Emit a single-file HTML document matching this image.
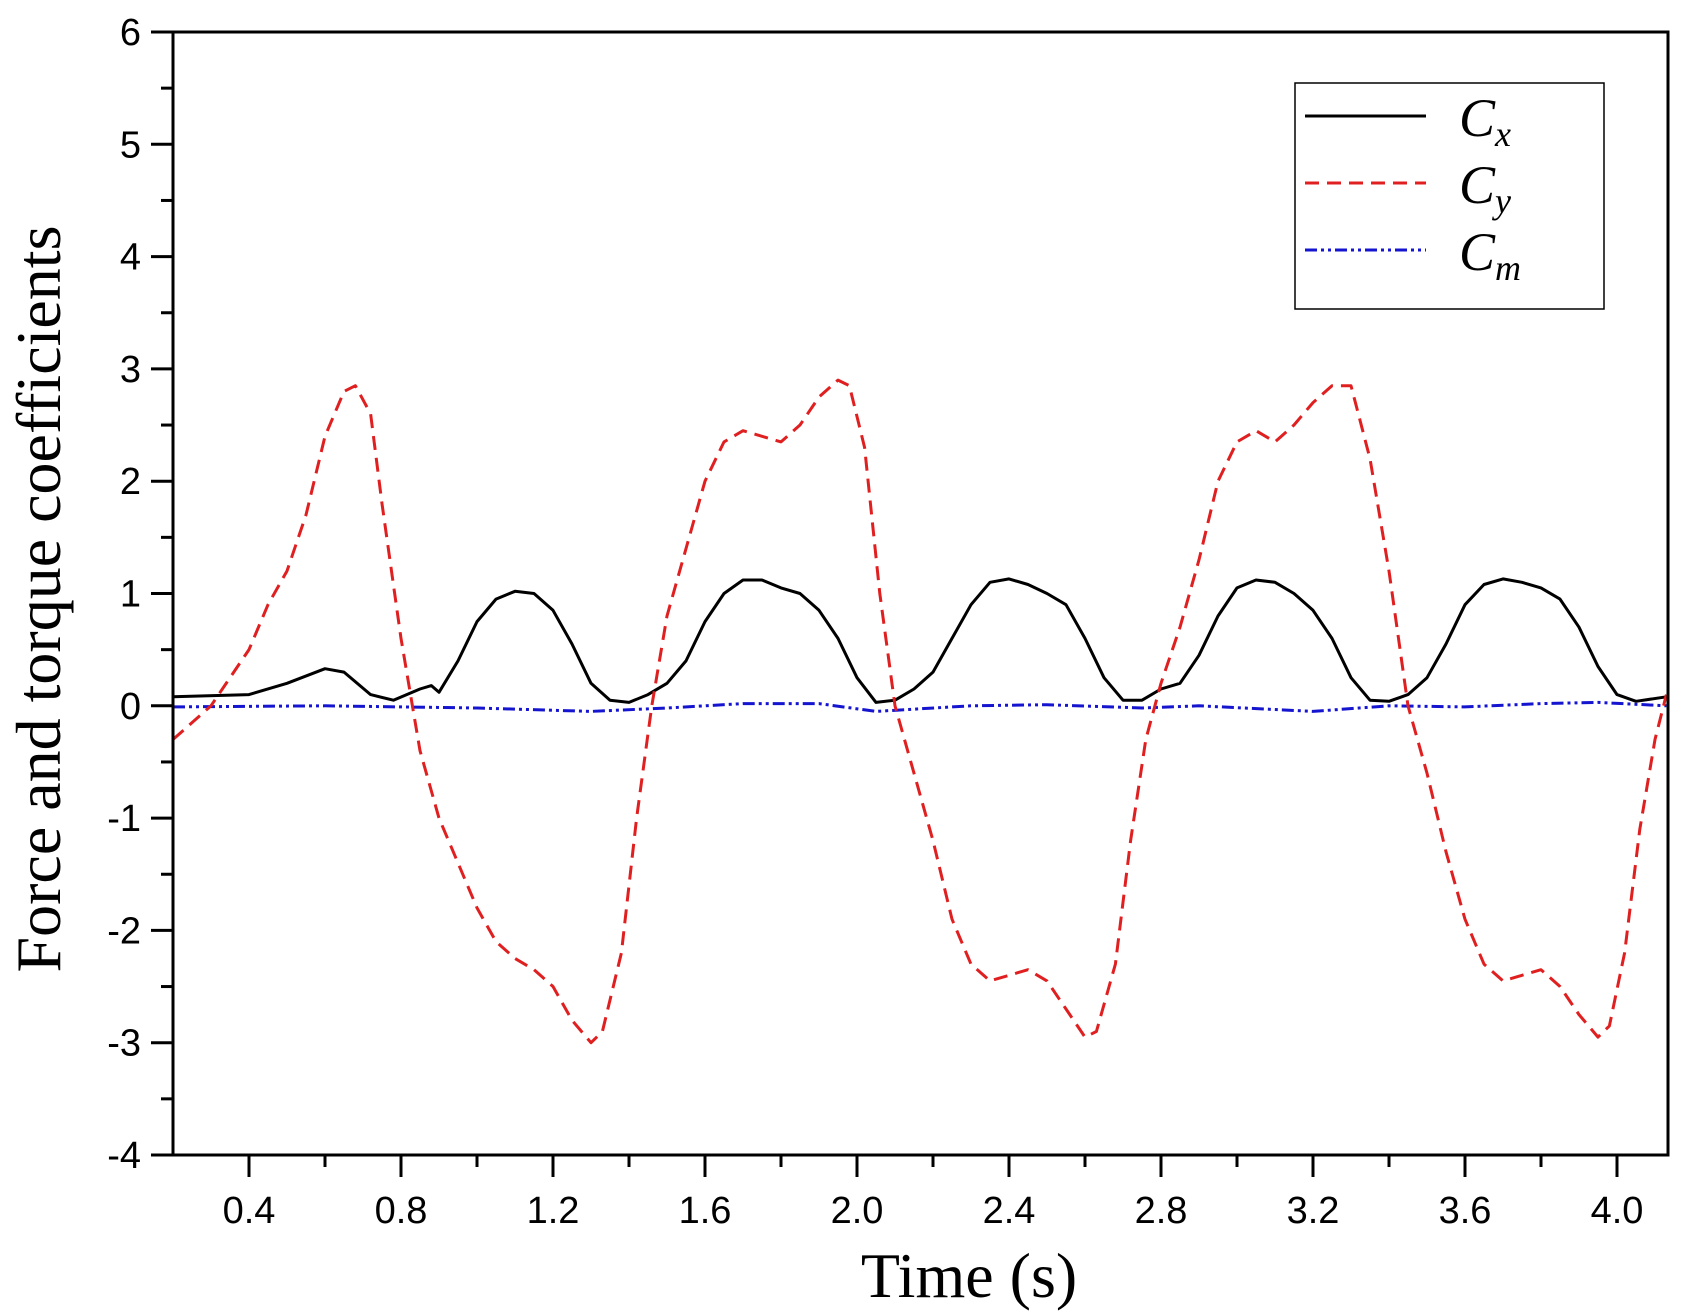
<!DOCTYPE html>
<html><head><meta charset="utf-8"><style>
html,body{margin:0;padding:0;background:#fff}
svg{display:block}
.tk{font-family:"Liberation Sans",sans-serif;font-size:38px;fill:#000}
.ti{font-family:"Liberation Serif",serif;font-size:64px;fill:#000}
.lg{font-family:"Liberation Serif",serif;font-style:italic;font-size:54px;fill:#000}
</style></head><body>
<svg id="chart" width="1688" height="1315" viewBox="0 0 1688 1315" xmlns="http://www.w3.org/2000/svg">
<g id="axes"></g>
<g id="series"></g>
<rect x="173" y="32" width="1495" height="1123" fill="none" stroke="#000" stroke-width="3"/>
<g>
<rect x="1295" y="83" width="309" height="226" fill="#fff" stroke="#000" stroke-width="1.5"/>
<line x1="1305" y1="116" x2="1426" y2="116" stroke="#000" stroke-width="3"/>
<line x1="1305" y1="183" x2="1426" y2="183" stroke="#e02020" stroke-width="3" stroke-dasharray="14,8"/>
<line x1="1305" y1="250" x2="1426" y2="250" stroke="#1515d0" stroke-width="3" stroke-dasharray="12,4,3,4,3,4"/>
<text class="lg" x="1459" y="136">C<tspan font-size="36" dy="10">x</tspan></text>
<text class="lg" x="1459" y="203">C<tspan font-size="36" dy="10">y</tspan></text>
<text class="lg" x="1459" y="270">C<tspan font-size="36" dy="10">m</tspan></text>
</g>
<text class="ti" x="969" y="1297" text-anchor="middle">Time (s)</text>
<text class="ti" transform="translate(60,599) rotate(-90)" text-anchor="middle">Force and torque coefficients</text>
</svg>
<script>
const xTicks=[0.4,0.8,1.2,1.6,2.0,2.4,2.8,3.2,3.6,4.0];
const xTickLabels=["0.4","0.8","1.2","1.6","2.0","2.4","2.8","3.2","3.6","4.0"];
const yTicks=[-4,-3,-2,-1,0,1,2,3,4,5,6];
const yTickLabels=["-4","-3","-2","-1","0","1","2","3","4","5","6"];
const cyT=[0.2,0.3,0.4,0.45,0.5,0.55,0.6,0.65,0.68,0.72,0.75,0.8,0.85,0.9,0.95,1.0,1.05,1.1,1.15,1.2,1.25,1.3,1.33,1.38,1.42,1.46,1.5,1.55,1.6,1.65,1.7,1.75,1.8,1.85,1.9,1.95,1.98,2.02,2.06,2.1,2.15,2.2,2.25,2.3,2.35,2.4,2.45,2.5,2.55,2.6,2.63,2.68,2.72,2.76,2.8,2.85,2.9,2.95,3.0,3.05,3.1,3.15,3.2,3.25,3.3,3.35,3.4,3.45,3.5,3.55,3.6,3.65,3.7,3.75,3.8,3.85,3.9,3.95,3.98,4.02,4.06,4.1,4.13];
const cyV=[-0.3,0.0,0.5,0.9,1.2,1.7,2.4,2.8,2.85,2.6,1.8,0.6,-0.4,-1.0,-1.4,-1.8,-2.1,-2.25,-2.35,-2.5,-2.8,-3.0,-2.9,-2.2,-1.0,0.0,0.8,1.4,2.0,2.35,2.45,2.4,2.35,2.5,2.75,2.9,2.85,2.3,1.0,0.0,-0.6,-1.2,-1.9,-2.3,-2.45,-2.4,-2.35,-2.45,-2.7,-2.95,-2.9,-2.3,-1.2,-0.3,0.2,0.7,1.3,2.0,2.35,2.45,2.35,2.5,2.7,2.85,2.85,2.2,1.2,0.0,-0.6,-1.3,-1.9,-2.3,-2.45,-2.4,-2.35,-2.5,-2.75,-2.95,-2.85,-2.2,-1.1,-0.3,0.1];
const cxT=[0.2,0.4,0.5,0.6,0.65,0.72,0.78,0.85,0.88,0.9,0.95,1.0,1.05,1.1,1.15,1.2,1.25,1.3,1.35,1.4,1.45,1.5,1.55,1.6,1.65,1.7,1.75,1.8,1.85,1.9,1.95,2.0,2.05,2.1,2.15,2.2,2.25,2.3,2.35,2.4,2.45,2.5,2.55,2.6,2.65,2.7,2.75,2.8,2.85,2.9,2.95,3.0,3.05,3.1,3.15,3.2,3.25,3.3,3.35,3.4,3.45,3.5,3.55,3.6,3.65,3.7,3.75,3.8,3.85,3.9,3.95,4.0,4.05,4.13];
const cxV=[0.08,0.1,0.2,0.33,0.3,0.1,0.05,0.15,0.18,0.12,0.4,0.75,0.95,1.02,1.0,0.85,0.55,0.2,0.05,0.03,0.1,0.2,0.4,0.75,1.0,1.12,1.12,1.05,1.0,0.85,0.6,0.25,0.03,0.05,0.15,0.3,0.6,0.9,1.1,1.13,1.08,1.0,0.9,0.6,0.25,0.05,0.05,0.15,0.2,0.45,0.8,1.05,1.12,1.1,1.0,0.85,0.6,0.25,0.05,0.04,0.1,0.25,0.55,0.9,1.08,1.13,1.1,1.05,0.95,0.7,0.35,0.1,0.04,0.08];
const cmT=[0.2,0.6,1.0,1.3,1.5,1.7,1.9,2.05,2.3,2.5,2.75,2.9,3.2,3.4,3.6,3.8,3.95,4.13];
const cmV=[-0.01,0.0,-0.02,-0.05,-0.02,0.02,0.02,-0.05,0.0,0.01,-0.02,0.0,-0.05,0.0,-0.01,0.02,0.03,0.0];

const L=173,R=1668,T=32,B=1155,X0=0.2,X1=4.1342,Y0=-4,Y1=6;
const sx=t=>L+(t-X0)/(X1-X0)*(R-L);
const sy=v=>B-(v-Y0)/(Y1-Y0)*(B-T);
const NS="http://www.w3.org/2000/svg";
const axes=document.getElementById('axes'),series=document.getElementById('series');
function mk(tag,attrs,parent){const e=document.createElementNS(NS,tag);for(const k in attrs)e.setAttribute(k,attrs[k]);parent.appendChild(e);return e;}
xTicks.forEach((t,i)=>{
  const l=mk('line',{x1:sx(t),x2:sx(t),y1:B,y2:B+22,stroke:'#000','stroke-width':3},axes);
  
  
  const m=mk('line',{x1:sx(t+0.2),x2:sx(t+0.2),y1:B,y2:B+12,stroke:'#000','stroke-width':3},axes);
  
  
  const tx=mk('text',{x:sx(t),y:B+68,'text-anchor':'middle',class:'tk'},axes);
  tx.textContent=xTickLabels[i];
  
  
});
yTicks.forEach((v,i)=>{
  const l=mk('line',{x1:L-22,x2:L,y1:sy(v),y2:sy(v),stroke:'#000','stroke-width':3},axes);
  
  
  if(v<6){const m=mk('line',{x1:L-12,x2:L,y1:sy(v+0.5),y2:sy(v+0.5),stroke:'#000','stroke-width':3},axes);
  
  }
  const tx=mk('text',{x:L-32,y:sy(v)+13,'text-anchor':'end',class:'tk'},axes);
  tx.textContent=yTickLabels[i];
  
  
});
function path(ts,vs){return ts.map((t,i)=>(i?'L':'M')+sx(t).toFixed(1)+','+sy(vs[i]).toFixed(1)).join('');}
const pcm=mk('path',{d:path(cmT,cmV),fill:'none',stroke:'#1515d0','stroke-width':3,'stroke-dasharray':'12,4,3,4,3,4'},series);


const pcx=mk('path',{d:path(cxT,cxV),fill:'none',stroke:'#000','stroke-width':3,'stroke-linejoin':'round'},series);


const pcy=mk('path',{d:path(cyT,cyV),fill:'none',stroke:'#e02020','stroke-width':3,'stroke-dasharray':'14,8','stroke-linejoin':'round'},series);


</script>
</body></html>
